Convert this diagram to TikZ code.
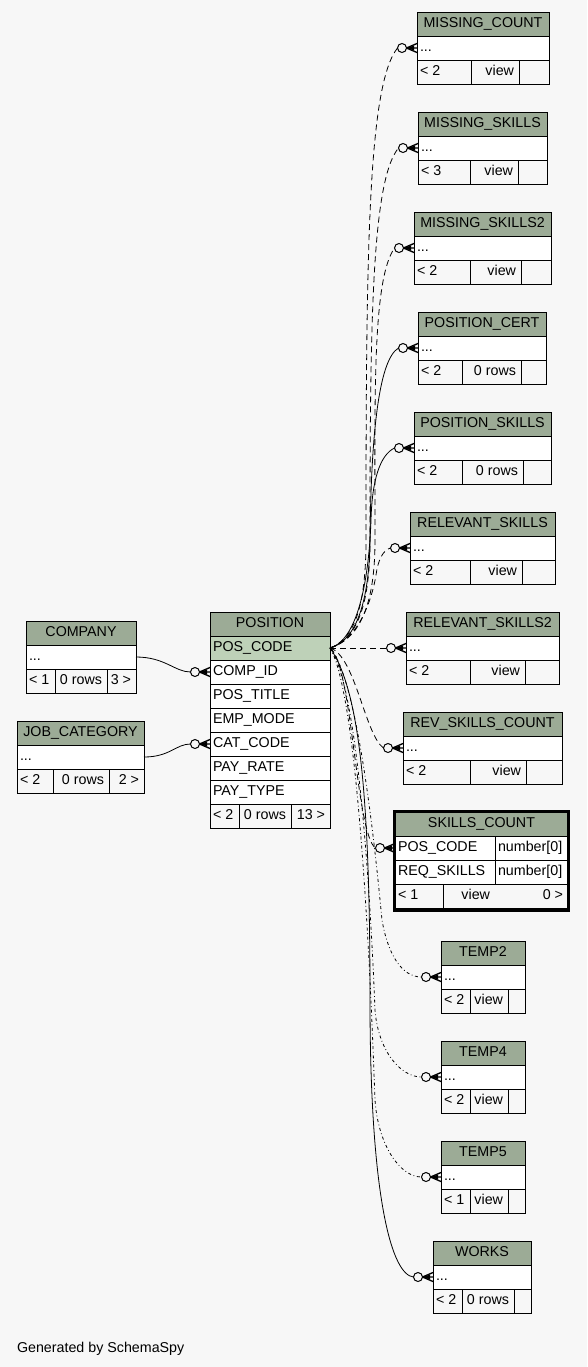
\documentclass[tikz,border=0pt]{standalone}
\usepackage{fontspec}
\setmainfont{Liberation Sans}
\definecolor{bgc}{HTML}{F7F7F7}
\definecolor{hdr}{HTML}{9CAB96}
\definecolor{pkrow}{HTML}{BED1B8}
\definecolor{foot}{HTML}{F7F7F7}
\newcommand\tabfont{\fontsize{10.7pt}{12pt}\selectfont}
\tikzset{
  cellbox/.style={draw=black, line width=0.75pt, rectangle, anchor=north west, minimum height=18pt, inner sep=0pt, outer sep=0pt},
  celltxt/.style={inner sep=0pt, outer sep=0pt, font=\tabfont},
  fk/.style={line width=0.6pt},
  impl/.style={fk, dash pattern=on 4.5pt off 3pt},
  dashdotline/.style={fk, dash pattern=on 2.25pt off 2pt on 0.6pt off 2pt},
  crowodot/.pic={
    \draw[line width=0.75pt, fill=bgc] (-15,0) circle[radius=3.375pt];
    \draw[line width=1pt] (-10.5,0) -- (0,-4.5) (-10.5,0) -- (0,0) (-10.5,0) -- (0,4.5);
    \fill (-10.5,0) -- (-3,-2.5) -- (-3,2.5) -- cycle;
    \coordinate (-in) at (-19.5,0);
  }
}
\newcommand\tabcell[5]{\node[cellbox, fill=#5, minimum width={(#4)*0.75pt}] (#1) at (#2,#3) {};}
\newcommand\txtl[2]{\node[celltxt, anchor=base west] (#1-t) at ([shift={(3,-8.3)}]#1.south west) {#2};}
\newcommand\txtr[2]{\node[celltxt, anchor=base east] (#1-t) at ([shift={(-5,-8.3)}]#1.south east) {#2};}
\newcommand\txtc[2]{\node[celltxt, anchor=base] (#1-t) at ([shift={(0,-8.3)}]#1.south) {#2};}
% id, x1, x2, ytop, title, foot1, foot2, div1, div2
\newcommand\vtable[9]{%
  \tabcell{#1-h}{#2}{#4}{#3-#2}{hdr}\txtc{#1-h}{#5}%
  \tabcell{#1-r}{#2}{#4+24}{#3-#2}{white}\txtl{#1-r}{...}%
  \tabcell{#1-f1}{#2}{#4+48}{#8-#2}{foot}\txtl{#1-f1}{#6}%
  \tabcell{#1-f2}{#8}{#4+48}{#9-#8}{foot}\txtr{#1-f2}{#7}%
  \tabcell{#1-f3}{#9}{#4+48}{#3-#9}{foot}%
}
\begin{document}
\begin{tikzpicture}[x=0.75pt,y=-0.75pt]
\fill[bgc] (0,0) rectangle (587,1367);
\useasboundingbox (0,0) rectangle (587,1367);

% left tables
\vtable{co}{26}{136}{621}{COMPANY}{< 1}{0 rows}{55}{107}
\txtr{co-f3}{3 >}
\vtable{jc}{17}{144}{721}{JOB\_CATEGORY}{< 2}{0 rows}{53}{109}
\txtr{jc-f3}{2 >}

% POSITION
\tabcell{pos-h}{210}{612}{120}{hdr}\txtc{pos-h}{POSITION}
\tabcell{pos-pc}{210}{636}{120}{pkrow}\txtl{pos-pc}{POS\_CODE}
\tabcell{pos-ci}{210}{660}{120}{white}\txtl{pos-ci}{COMP\_ID}
\tabcell{pos-pt}{210}{684}{120}{white}\txtl{pos-pt}{POS\_TITLE}
\tabcell{pos-em}{210}{708}{120}{white}\txtl{pos-em}{EMP\_MODE}
\tabcell{pos-cc}{210}{732}{120}{white}\txtl{pos-cc}{CAT\_CODE}
\tabcell{pos-pr}{210}{756}{120}{white}\txtl{pos-pr}{PAY\_RATE}
\tabcell{pos-py}{210}{780}{120}{white}\txtl{pos-py}{PAY\_TYPE}
\tabcell{pos-f1}{210}{804}{29}{foot}\txtl{pos-f1}{< 2}
\tabcell{pos-f2}{239}{804}{52}{foot}\txtr{pos-f2}{0 rows}
\tabcell{pos-f3}{291}{804}{39}{foot}\txtr{pos-f3}{13 >}
\pic (mci) at (pos-ci.west) {crowodot};
\pic (mcc) at (pos-cc.west) {crowodot};

% right tables
\vtable{mc}{417}{549}{12}{MISSING\_COUNT}{< 2}{view}{471}{519}
\vtable{ms}{418}{547}{112}{MISSING\_SKILLS}{< 3}{view}{470}{518}
\vtable{ms2}{414}{551}{212}{MISSING\_SKILLS2}{< 2}{view}{470}{521}
\vtable{pce}{418}{546}{312}{POSITION\_CERT}{< 2}{0 rows}{462}{521}
\vtable{psk}{414}{551}{412}{POSITION\_SKILLS}{< 2}{0 rows}{462}{523}
\vtable{rs}{410}{555}{512}{RELEVANT\_SKILLS}{< 2}{view}{470}{522}
\vtable{rs2}{406}{559}{612}{RELEVANT\_SKILLS2}{< 2}{view}{470}{525}
\vtable{rsc}{403}{562}{712}{REV\_SKILLS\_COUNT}{< 2}{view}{470}{526}
\vtable{t2}{441}{525}{941}{TEMP2}{< 2}{view}{470}{508}
\vtable{t4}{441}{525}{1041}{TEMP4}{< 2}{view}{470}{508}
\vtable{t5}{441}{525}{1141}{TEMP5}{< 1}{view}{470}{508}
\vtable{wk}{433}{531}{1241}{WORKS}{< 2}{0 rows}{462}{514}
\foreach \t in {mc,ms,ms2,pce,psk,rs,rs2,rsc,t2,t4,t5,wk}{\pic (\t) at (\t-r.west) {crowodot};}

% SKILLS_COUNT
\tabcell{sc-h}{395}{812}{173}{hdr}\txtc{sc-h}{SKILLS\_COUNT}
\tabcell{sc-c1}{395}{836}{100}{white}\txtl{sc-c1}{POS\_CODE}
\tabcell{sc-t1}{495}{836}{73}{white}\txtl{sc-t1}{number[0]}
\tabcell{sc-c2}{395}{860}{100}{white}\txtl{sc-c2}{REQ\_SKILLS}
\tabcell{sc-t2}{495}{860}{73}{white}\txtl{sc-t2}{number[0]}
\tabcell{sc-f1}{395}{884}{48}{foot}\txtl{sc-f1}{< 1}
\tabcell{sc-f2}{443}{884}{125}{foot}\txtr{sc-f2}{0 >}
\node[celltxt, anchor=base east] (sc-view) at ([shift={(-78,-8.3)}]sc-f2.south east) {view};
\node[draw, line width=2.25pt, rectangle, anchor=north west, inner sep=0pt, outer sep=0pt,
      minimum width=130.5pt, minimum height=74.25pt] (sc-frame) at (394.5,811.5) {};
\pic (sc) at (sc-c1.west) {crowodot};

% left connectors
\draw[fk] (co-r.east) .. controls (165,657) and (175,672) .. (mci-in);
\draw[fk] (jc-r.east) .. controls (170,757) and (176,744) .. (mcc-in);

% right connectors
\draw[impl] (pos-pc.east) .. controls (352,640) and (366,612) .. (366,540) .. controls (366,250) and (368,85) .. (mc-in);
\draw[impl] (pos-pc.east) .. controls (354,640) and (370,612) .. (370,540) .. controls (370,320) and (372,180) .. (ms-in);
\draw[impl] (pos-pc.east) .. controls (356,640) and (375,612) .. (375,540) .. controls (375,400) and (372,280) .. (ms2-in);
\draw[fk] (pos-pc.east) .. controls (352,642) and (369,612) .. (370,540) .. controls (371,440) and (378,360) .. (pce-in);
\draw[fk] (pos-pc.east) .. controls (352,642) and (368,600) .. (371,520) .. controls (372,480) and (380,455) .. (psk-in);
\draw[impl] (pos-pc.east) .. controls (358,640) and (372,600) .. (376,575) .. controls (378,560) and (383,550) .. (rs-in);
\draw[impl] (pos-pc.east) -- (rs2-in);
\draw[impl] (pos-pc.east) .. controls (355,655) and (365,735) .. (rsc-in);
\draw[impl] (pos-pc.east) .. controls (352,662) and (356,835) .. (sc-in);
\draw[dashdotline] (pos-pc.east) .. controls (360,680) and (378,880) .. (382,920) .. controls (388,955) and (402,977) .. (t2-in);
\draw[dashdotline] (pos-pc.east) .. controls (362,690) and (373,960) .. (375,1010) .. controls (378,1050) and (400,1077) .. (t4-in);
\draw[dashdotline] (pos-pc.east) .. controls (362,700) and (373,1050) .. (375,1100) .. controls (378,1145) and (400,1177) .. (t5-in);
\draw[fk] (pos-pc.east) .. controls (360,690) and (370,800) .. (370,1000) .. controls (370,1200) and (392,1275) .. (wk-in);

\node[celltxt, anchor=base west] (gen) at (17,1352) {Generated by SchemaSpy};
\end{tikzpicture}
\end{document}
